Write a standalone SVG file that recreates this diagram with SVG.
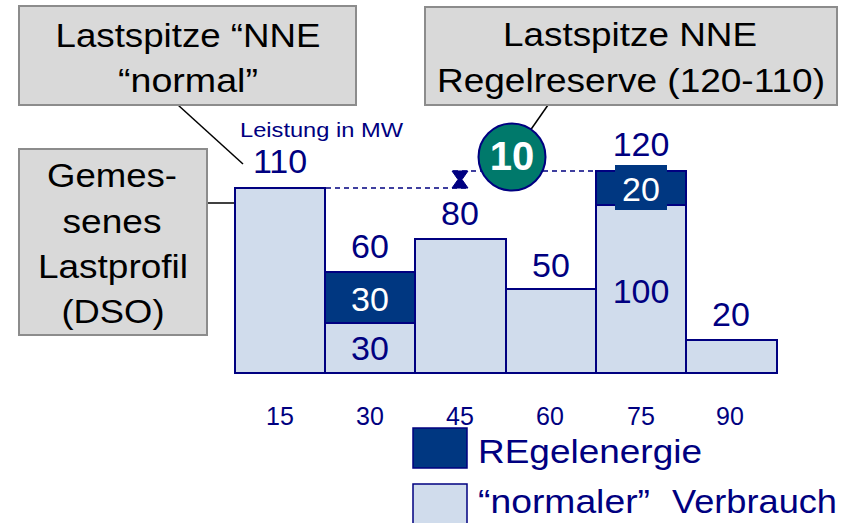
<svg xmlns="http://www.w3.org/2000/svg" width="852" height="523" viewBox="0 0 852 523">
<style>
text{font-family:"Liberation Sans",Arial,sans-serif}
.box{fill:#d9d9d9;stroke:#8c8c8c;stroke-width:2}
.bt{font-size:34px;fill:#000;text-anchor:middle}
.lt{fill:#d0dcec;stroke:#000080;stroke-width:2}
.dk{fill:#003781;stroke:#000080;stroke-width:2}
.val{font-size:34px;fill:#000080;text-anchor:middle}
.wv{font-size:34px;fill:#fff;text-anchor:middle}
.tick{font-size:25px;fill:#000080;text-anchor:middle}
.lead{stroke:#000;stroke-width:1.5;fill:none}
.dash{stroke:#000080;stroke-width:1.5;stroke-dasharray:5 4;fill:none}
.leg{font-size:34px;fill:#000080}
</style>
<rect width="852" height="523" fill="#fff"/>
<g id="connectors">
<line class="lead" x1="178" y1="105" x2="243" y2="164"/>
<line class="lead" x1="207" y1="203" x2="241" y2="203"/>
<line class="lead" x1="548" y1="105" x2="525" y2="138"/>
<line class="dash" x1="326" y1="188" x2="467" y2="188"/>
<line class="dash" x1="453" y1="171" x2="596" y2="171"/>
<path d="M452 171H468L462 179.5L468 188H452L458 179.5Z" fill="#000080" stroke="#000080" stroke-width="1"/>
</g>
<g id="box-normal">
<rect class="box" x="19" y="6" width="337" height="99"/>
<text class="bt" x="188" y="47" textLength="265" lengthAdjust="spacingAndGlyphs">Lastspitze “NNE</text>
<text class="bt" x="188" y="92" textLength="140" lengthAdjust="spacingAndGlyphs">“normal”</text>
</g>
<g id="box-regelreserve">
<rect class="box" x="425" y="7" width="412" height="98"/>
<text class="bt" x="630" y="46" textLength="254" lengthAdjust="spacingAndGlyphs">Lastspitze NNE</text>
<text class="bt" x="631" y="92" textLength="388" lengthAdjust="spacingAndGlyphs">Regelreserve (120-110)</text>
</g>
<g id="box-lastprofil">
<rect class="box" x="19" y="149" width="188" height="186"/>
<text class="bt" x="112" y="187" textLength="130" lengthAdjust="spacingAndGlyphs">Gemes-</text>
<text class="bt" x="112" y="233" textLength="99" lengthAdjust="spacingAndGlyphs">senes</text>
<text class="bt" x="113" y="278" textLength="150" lengthAdjust="spacingAndGlyphs">Lastprofil</text>
<text class="bt" x="113" y="323" textLength="103" lengthAdjust="spacingAndGlyphs">(DSO)</text>
</g>
<g id="axis-title">
<text x="240" y="137" font-size="21" fill="#000080" textLength="163" lengthAdjust="spacingAndGlyphs">Leistung in MW</text>
</g>
<g id="bar-15">
<rect class="lt" x="235" y="188" width="90" height="185"/>
<text class="val" x="280" y="173">110</text>
</g>
<g id="bar-30">
<rect class="lt" x="325" y="323" width="90" height="50"/>
<rect class="dk" x="325" y="272" width="90" height="51"/>
<text class="val" x="370" y="258">60</text>
<text class="wv" x="370" y="311">30</text>
<text class="val" x="370" y="360">30</text>
</g>
<g id="bar-45">
<rect class="lt" x="415" y="239" width="91" height="134"/>
<text class="val" x="460" y="225">80</text>
</g>
<g id="bar-60">
<rect class="lt" x="506" y="289" width="90" height="84"/>
<text class="val" x="551" y="277">50</text>
</g>
<g id="bar-75">
<rect class="lt" x="596" y="205" width="90" height="168"/>
<rect class="dk" x="596" y="171" width="90" height="34"/>
<rect x="615" y="165" width="52" height="45" fill="#003781"/>
<text class="wv" x="641" y="201">20</text>
<text class="val" x="641" y="156">120</text>
<text class="val" x="641" y="303">100</text>
</g>
<g id="bar-90">
<rect class="lt" x="686" y="340" width="91" height="33"/>
<text class="val" x="731" y="326">20</text>
</g>
<g id="marker-10">
<circle cx="512" cy="157" r="33.5" fill="#00796b" stroke="#000080" stroke-width="2"/>
<text x="512" y="170" font-size="40" font-weight="bold" fill="#fff" text-anchor="middle">10</text>
</g>
<g id="x-axis">
<text class="tick" x="280" y="425">15</text>
<text class="tick" x="370" y="425">30</text>
<text class="tick" x="460" y="425">45</text>
<text class="tick" x="550" y="425">60</text>
<text class="tick" x="641" y="425">75</text>
<text class="tick" x="730" y="425">90</text>
</g>
<g id="legend">
<rect x="413" y="428" width="54" height="40" fill="#003781" stroke="#000080" stroke-width="1.5"/>
<text class="leg" x="478" y="463" textLength="224" lengthAdjust="spacingAndGlyphs">REgelenergie</text>
<rect x="413" y="484" width="54" height="45" fill="#d0dcec" stroke="#000080" stroke-width="1.5"/>
<text class="leg" y="513"><tspan x="478" textLength="172" lengthAdjust="spacingAndGlyphs">“normaler”</tspan><tspan x="672" textLength="165" lengthAdjust="spacingAndGlyphs">Verbrauch</tspan></text>
</g>
</svg>
